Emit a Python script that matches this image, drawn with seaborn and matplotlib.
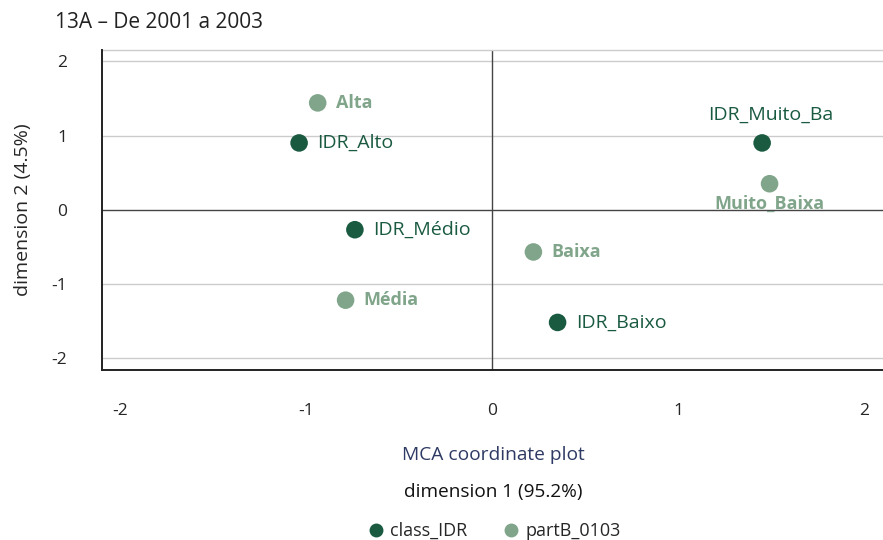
import matplotlib
matplotlib.use("Agg")
import matplotlib.pyplot as plt
from matplotlib.lines import Line2D
import seaborn as sns
import pandas as pd

# MCA coordinates for the two variables
idr_labels = ["IDR_Alto", "IDR_Muito_Ba", "IDR_Médio", "IDR_Baixo"]
idr_dim1 = [-1.04, 1.45, -0.74, 0.35]
idr_dim2 = [0.90, 0.90, -0.27, -1.52]

part_labels = ["Alta", "Muito_Baixa", "Baixa", "Média"]
part_dim1 = [-0.94, 1.49, 0.22, -0.79]
part_dim2 = [1.44, 0.35, -0.57, -1.22]

group_names = ["class_IDR", "partB_0103"]
x_ticks = [-2, -1, 0, 1, 2]
y_ticks = [-2, -1, 0, 1, 2]

dark = "#1a5a41"
light = "#80a58a"

df = pd.DataFrame({
    "label": idr_labels + part_labels,
    "dim1": idr_dim1 + part_dim1,
    "dim2": idr_dim2 + part_dim2,
    "group": [group_names[0]] * len(idr_labels) + [group_names[1]] * len(part_labels),
})

sns.set_theme(style="white")
plt.rcParams["font.family"] = ["Open Sans", "DejaVu Sans"]

fig = plt.figure(figsize=(8.83, 5.40), dpi=100)
ax = fig.add_axes([0.1155, 0.315, 0.8845, 0.592])

palette = {group_names[0]: dark, group_names[1]: light}
sns.scatterplot(data=df, x="dim1", y="dim2", hue="group", palette=palette,
                s=160, linewidth=0, ax=ax, legend=False, zorder=3)

ax.set_xlim(-2.1, 2.1)
ax.set_ylim(-2.16, 2.15)
ax.set_xticks(x_ticks)
ax.set_yticks(y_ticks)
ax.set_xticklabels([str(t) for t in x_ticks], fontsize=12.5)
ax.set_yticklabels([str(t) for t in y_ticks], fontsize=12.5)
ax.tick_params(axis="x", length=15, width=0.8, color="#555555", pad=9)
ax.tick_params(axis="y", length=14, width=0.8, color="#555555", pad=11)

# horizontal grid + origin reference lines
for yv in y_ticks:
    if yv != 0:
        ax.axhline(yv, color="#cccccc", lw=1.0, zorder=0)
ax.axhline(0, color="#444444", lw=1.0, zorder=1)
ax.axvline(0, color="#444444", lw=1.0, zorder=1)

for side in ["top", "right"]:
    ax.spines[side].set_visible(False)
ax.spines["left"].set_color("#222222")
ax.spines["bottom"].set_color("#222222")
ax.spines["left"].set_linewidth(1.4)
ax.spines["bottom"].set_linewidth(1.4)
ax.plot([0, 1], [1, 1], transform=ax.transAxes, color="#cccccc", lw=1.0, clip_on=False)

ax.set_xlabel("")
ax.set_ylabel("dimension 2 (4.5%)", fontsize=14, labelpad=14)

# point labels
for lab, x, y in zip(idr_labels, idr_dim1, idr_dim2):
    if lab == "IDR_Muito_Ba":
        ax.annotate(lab, (x, y), xytext=(6, 14), textcoords="offset points",
                    ha="center", va="bottom", color=dark, fontsize=14)
    else:
        ax.annotate(lab, (x, y), xytext=(13, 0), textcoords="offset points",
                    ha="left", va="center", color=dark, fontsize=14)
for lab, x, y in zip(part_labels, part_dim1, part_dim2):
    if lab == "Muito_Baixa":
        ax.annotate(lab, (x, y), xytext=(0, -8), textcoords="offset points",
                    ha="center", va="top", color=light, fontsize=13, fontweight="bold")
    else:
        ax.annotate(lab, (x, y), xytext=(13, 0), textcoords="offset points",
                    ha="left", va="center", color=light, fontsize=13, fontweight="bold")

fig.text(0.062, 0.958, "13A – De 2001 a 2003", fontsize=15, color="#222222",
         ha="left", va="center")
fig.text(0.559, 0.158, "MCA coordinate plot", fontsize=13.8, color="#2e3a63",
         ha="center", va="center")
fig.text(0.559, 0.088, "dimension 1 (95.2%)", fontsize=13.7, color="#111111",
         ha="center", va="center")

handles = [Line2D([0], [0], marker="o", linestyle="", markersize=10,
                  markerfacecolor=palette[g], markeredgewidth=0, label=g)
           for g in group_names]
fig.legend(handles=handles, loc="center", bbox_to_anchor=(0.556, 0.017), ncol=2,
           frameon=False, fontsize=13, handletextpad=0.0, columnspacing=1.6,
           handlelength=1.6)

fig.savefig("out.png", dpi=100)
